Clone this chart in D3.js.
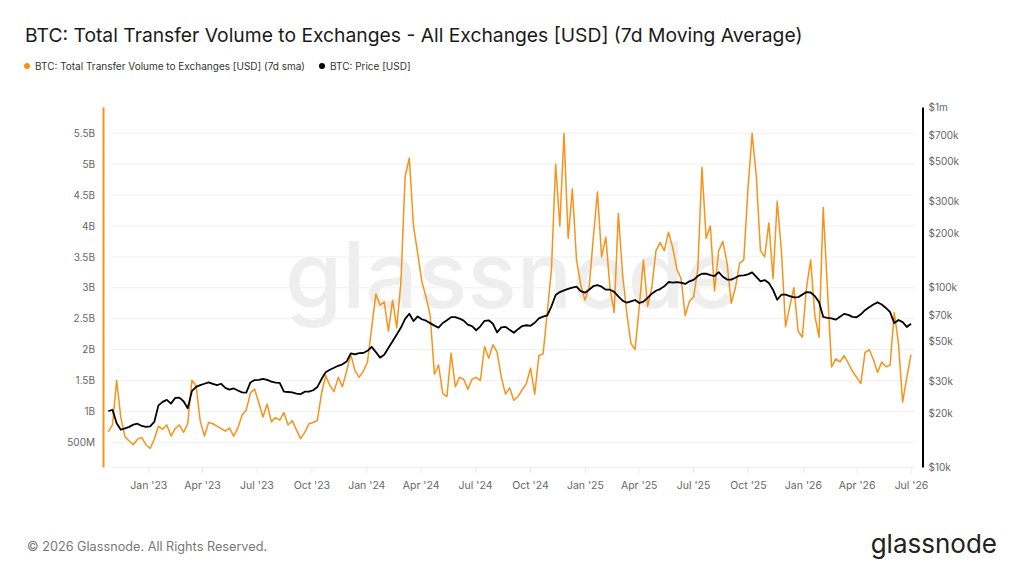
<!DOCTYPE html>
<html>
<head>
<meta charset="utf-8">
<script src="https://cdn.jsdelivr.net/npm/d3@7"></script>
<style>
  html, body { margin: 0; padding: 0; background: #fff; }
  svg { display: block; font-family: Inter, "Noto Sans", sans-serif; }
</style>
</head>
<body>
<div id="chart"></div>
<script>
// weekly samples starting 2022-10-26
const startDay = "2022-10-26";

// Transfer volume to exchanges, billions USD (7d sma)
const volumeB = [
  0.67, 0.78, 1.50, 0.90, 0.59, 0.52, 0.46, 0.55, 0.58, 0.46,
  0.40, 0.55, 0.76, 0.71, 0.78, 0.60, 0.72, 0.78, 0.66, 0.80,
  1.50, 1.42, 0.84, 0.60, 0.82, 0.80, 0.76, 0.72, 0.68, 0.73,
  0.60, 0.73, 0.94, 1.02, 1.30, 1.36, 1.14, 0.91, 1.12, 0.83,
  0.90, 0.86, 0.98, 0.78, 0.85, 0.70, 0.56, 0.66, 0.80, 0.82,
  0.85, 1.29, 1.58, 1.42, 1.32, 1.55, 1.40, 1.65, 1.92, 1.66,
  1.55, 1.65, 1.80, 2.35, 2.90, 2.72, 2.77, 2.30, 2.80, 2.35,
  3.10, 4.80, 5.10, 4.00, 3.56, 3.10, 2.85, 2.55, 1.60, 1.75,
  1.29, 1.24, 1.94, 1.40, 1.55, 1.52, 1.36, 1.52, 1.55, 1.50,
  2.05, 1.86, 2.08, 1.96, 1.56, 1.28, 1.38, 1.18, 1.24, 1.35,
  1.45, 1.70, 1.28, 1.90, 1.93, 2.60, 3.30, 5.00, 4.00, 5.50,
  3.80, 4.60, 3.45, 3.05, 2.80, 3.00, 3.80, 4.55, 3.50, 3.82,
  3.00, 2.60, 4.20, 3.23, 2.60, 2.10, 2.00, 2.69, 3.45, 2.70,
  3.00, 3.60, 3.73, 3.60, 3.90, 3.65, 3.30, 3.15, 2.55, 2.78,
  2.85, 3.30, 4.95, 3.80, 4.00, 2.95, 3.60, 3.75, 3.40, 2.75,
  3.00, 3.40, 3.45, 4.60, 5.50, 4.80, 3.60, 3.50, 4.05, 3.15,
  4.40, 3.60, 2.37, 2.70, 3.00, 2.30, 2.20, 3.00, 3.45, 2.55,
  2.20, 4.30, 3.00, 1.72, 1.85, 1.80, 1.90, 1.78, 1.65, 1.55,
  1.45, 1.95, 2.00, 1.84, 1.63, 1.80, 1.72, 1.75, 2.60, 2.10,
  1.15, 1.55, 1.92
];

// BTC price, thousands USD
const priceK = [
  20.4, 20.8, 17.5, 16.1, 16.4, 16.7, 17.2, 17.4, 16.9, 16.7,
  16.8, 17.8, 22.0, 23.0, 23.6, 22.5, 24.2, 24.3, 23.2, 21.2,
  26.4, 27.9, 28.5, 29.0, 29.5, 29.0, 28.5, 29.0, 27.5, 26.9,
  27.3, 26.6, 26.0, 25.9, 29.5, 30.4, 30.5, 30.9, 30.5, 29.8,
  29.4, 29.3, 26.2, 26.1, 26.0, 25.6, 25.4, 26.2, 26.2, 26.7,
  27.8, 30.8, 33.6, 34.7, 35.6, 36.5, 37.2, 38.5, 42.8, 42.2,
  42.9, 43.0, 44.2, 46.5, 43.5, 40.5, 42.0, 45.8, 50.0, 54.5,
  59.5, 66.5, 71.0, 64.6, 68.6, 66.2, 65.0, 63.0, 61.0, 59.5,
  63.1, 65.3, 68.0, 68.0, 66.8, 65.0, 61.8, 60.6, 57.5, 60.5,
  64.9, 65.3, 62.5, 56.0, 59.6, 60.1, 57.8, 55.7, 58.3, 60.7,
  61.3, 60.9, 63.3, 67.0, 68.4, 69.6, 78.0, 90.2, 93.7, 95.8,
  97.5, 99.2, 100.4, 94.8, 93.0, 96.6, 101.0, 102.3, 100.4, 96.6,
  96.6, 94.0, 88.8, 84.0, 81.8, 83.2, 84.7, 81.5, 83.0, 87.0,
  91.8, 95.3, 97.4, 100.9, 106.6, 105.8, 106.4, 105.6, 104.0, 107.6,
  109.5, 115.0, 118.5, 118.5, 116.5, 115.0, 121.0, 114.0, 110.0, 109.8,
  112.5, 115.8, 116.0, 117.5, 120.5, 114.0, 107.6, 109.3, 105.2, 96.5,
  85.0, 90.6, 90.6, 89.0, 87.5, 87.8, 90.7, 93.7, 93.2, 89.0,
  82.5, 68.3, 67.3, 67.0, 65.8, 68.3, 70.9, 70.0, 68.2, 67.9,
  70.5, 74.3, 77.2, 80.0, 82.1, 80.0, 76.5, 72.5, 63.0, 65.6,
  63.8, 60.0, 62.5
];

const volumeTicks = [0.5e9, 1e9, 1.5e9, 2e9, 2.5e9, 3e9, 3.5e9, 4e9, 4.5e9, 5e9, 5.5e9];
const priceTicks = [1e4, 2e4, 3e4, 5e4, 7e4, 1e5, 2e5, 3e5, 5e5, 7e5, 1e6];
const dateTicks = ["2023-01-01", "2023-04-01", "2023-07-01", "2023-10-01", "2024-01-01",
  "2024-04-01", "2024-07-01", "2024-10-01", "2025-01-01", "2025-04-01", "2025-07-01",
  "2025-10-01", "2026-01-01", "2026-04-01", "2026-07-01"];

const title = "BTC: Total Transfer Volume to Exchanges - All Exchanges [USD] (7d Moving Average)";
const seriesNames = ["BTC: Total Transfer Volume to Exchanges [USD] (7d sma)", "BTC: Price [USD]"];

const orange = "#f7931a";
const width = 1024, height = 576;
const plotTop = 107, plotBottom = 467;

const parse = d3.utcParse("%Y-%m-%d");
const start = parse(startDay);
const data = volumeB.map((v, i) => ({
  date: d3.utcDay.offset(start, i * 7),
  vol: v * 1e9,
  price: priceK[i] * 1e3
}));

const svg = d3.select("#chart").append("svg")
  .attr("width", width)
  .attr("height", height);

const x = d3.scaleUtc()
  .domain([parse("2023-01-01"), parse("2026-07-01")])
  .range([148.3, 911]);

const yVol = d3.scaleLinear()
  .domain([0.1e9, 5.925e9])
  .range([plotBottom, plotTop]);

const yPrice = d3.scaleLog()
  .domain([1e4, 1e6])
  .range([plotBottom, plotTop]);

// title + legend
svg.append("text")
  .attr("x", 25).attr("y", 42)
  .style("font-size", "19.3px")
  .style("fill", "#1a1a1a")
  .text(title);

const legend = svg.append("g").attr("transform", "translate(0,66)");
const legendItems = [
  { name: seriesNames[0], color: orange, x: 27 },
  { name: seriesNames[1], color: "#000", x: 322 }
];
legendItems.forEach(d => {
  legend.append("circle").attr("cx", d.x).attr("cy", 0).attr("r", 3).attr("fill", d.color);
  legend.append("text")
    .attr("x", d.x + 8).attr("y", 3.5)
    .style("font-size", "10px")
    .style("fill", "#333")
    .text(d.name);
});

// watermark
svg.append("text")
  .attr("x", 512).attr("y", 308)
  .attr("text-anchor", "middle")
  .style("font-size", "92px")
  .style("font-weight", "500")
  .style("fill", "#eeeeee")
  .text("glassnode");

// grid
svg.append("g")
  .selectAll("line")
  .data(volumeTicks)
  .enter().append("line")
  .attr("x1", 112).attr("x2", 915)
  .attr("y1", d => yVol(d)).attr("y2", d => yVol(d))
  .attr("stroke", "#f0f0f0")
  .attr("stroke-width", 1);

// bottom axis
const xAxis = svg.append("g")
  .attr("transform", `translate(0,${plotBottom})`)
  .call(d3.axisBottom(x)
    .tickValues(dateTicks.map(parse))
    .tickFormat(d3.utcFormat("%b '%y"))
    .tickSize(6)
    .tickPadding(9)
    .tickSizeOuter(0));
xAxis.select(".domain").attr("stroke", "#ececec").attr("d", "M112,0.5H915");
xAxis.selectAll("line").attr("stroke", "#ececec");
xAxis.selectAll("text")
  .style("font-family", "Inter, sans-serif")
  .style("font-size", "10.5px")
  .style("fill", "#666");

// left axis
const leftAxis = svg.append("g")
  .attr("transform", "translate(103,0)")
  .call(d3.axisLeft(yVol)
    .tickValues(volumeTicks)
    .tickFormat(v => v >= 1e9 ? (v / 1e9) + "B" : (v / 1e6) + "M")
    .tickSize(0)
    .tickPadding(8)
    .tickSizeOuter(0));
leftAxis.select(".domain").attr("stroke", orange).attr("stroke-width", 2);
leftAxis.selectAll("text")
  .style("font-family", "Inter, sans-serif")
  .style("font-size", "10px")
  .style("fill", "#666");

// right axis
const rightAxis = svg.append("g")
  .attr("transform", "translate(922.5,0)")
  .call(d3.axisRight(yPrice)
    .tickValues(priceTicks)
    .tickFormat(v => v >= 1e6 ? "$" + (v / 1e6) + "m" : "$" + (v / 1e3) + "k")
    .tickSize(0)
    .tickPadding(6)
    .tickSizeOuter(0));
rightAxis.select(".domain").attr("stroke", "#000").attr("stroke-width", 2);
rightAxis.selectAll("text")
  .style("font-family", "Inter, sans-serif")
  .style("font-size", "10px")
  .style("fill", "#666");

// lines
svg.append("path")
  .datum(data)
  .attr("fill", "none")
  .attr("stroke", orange)
  .attr("stroke-width", 1.5)
  .attr("stroke-linejoin", "round")
  .attr("d", d3.line().x(d => x(d.date)).y(d => yVol(d.vol)));

svg.append("path")
  .datum(data)
  .attr("fill", "none")
  .attr("stroke", "#000")
  .attr("stroke-width", 1.8)
  .attr("stroke-linejoin", "round")
  .attr("d", d3.line().x(d => x(d.date)).y(d => yPrice(d.price)));

// footer
svg.append("text")
  .attr("x", 27).attr("y", 551)
  .style("font-size", "12.7px")
  .style("fill", "#777")
  .text("© 2026 Glassnode. All Rights Reserved.");

svg.append("text")
  .attr("x", 997).attr("y", 553)
  .attr("text-anchor", "end")
  .style("font-size", "26px")
  .style("fill", "#222")
  .text("glassnode");
</script>
</body>
</html>
